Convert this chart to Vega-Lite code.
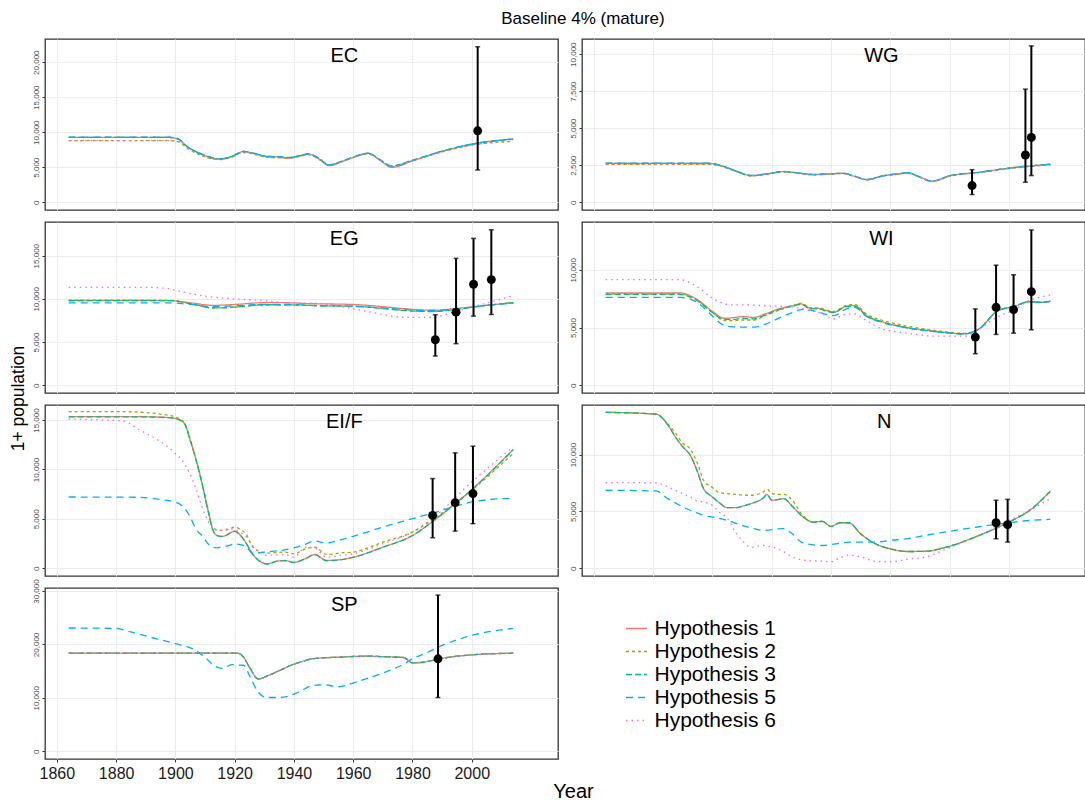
{
"$schema":"https://vega.github.io/schema/vega-lite/v6.json",
"background":"white",
"padding":{"left":8,"top":10,"right":0,"bottom":0},
"title":{"text":"Baseline 4% (mature)","fontSize":17,"fontWeight":"normal","font":"Liberation Sans","color":"black","anchor":"middle","dx":36,"offset":10},
"config":{
 "font":"Liberation Sans",
 "view":{"stroke":"#333333","strokeWidth":1.3},
 "axis":{"domain":false,"gridColor":"#ebebeb","tickColor":"#333333","tickSize":3,"tickWidth":1,"labelColor":"#4d4d4d","labelFlush":false,"labelOverlap":false},
 "axisY":{"labelAngle":-90,"labelAlign":"center","labelBaseline":"bottom","labelFontSize":8,"labelPadding":2},
 "legend":{"orient":"none","legendX":580,"legendY":578,"symbolType":"stroke","symbolSize":441,"symbolStrokeWidth":1.5,"labelFontSize":21,"labelColor":"black","rowPadding":1,"labelOffset":6.5,"labelLimit":300}
},
"datasets":{
"lines":[
{"p":"EC","x":1864,"h1":9250,"h2":8800,"h3":9250,"h5":9300,"h6":8800},
{"p":"EC","x":1898,"h1":9250,"h2":8800,"h3":9250,"h5":9300,"h6":8800},
{"p":"EC","x":1901,"h1":9000,"h2":8650,"h3":9000,"h5":9050,"h6":8650},
{"p":"EC","x":1904,"h1":7900,"h2":7700,"h3":7950,"h5":7950,"h6":7700},
{"p":"EC","x":1908,"h1":7000,"h2":6800,"h3":7050,"h5":7000,"h6":6800},
{"p":"EC","x":1911,"h1":6500,"h2":6350,"h3":6550,"h5":6500,"h6":6350},
{"p":"EC","x":1915,"h1":6170,"h2":6100,"h3":6200,"h5":6200,"h6":6100},
{"p":"EC","x":1919,"h1":6500,"h2":6450,"h3":6550,"h5":6550,"h6":6450},
{"p":"EC","x":1923,"h1":7250,"h2":7100,"h3":7250,"h5":7250,"h6":7100},
{"p":"EC","x":1927,"h1":6900,"h2":6800,"h3":6950,"h5":6950,"h6":6800},
{"p":"EC","x":1931,"h1":6500,"h2":6400,"h3":6550,"h5":6550,"h6":6400},
{"p":"EC","x":1935,"h1":6450,"h2":6350,"h3":6500,"h5":6500,"h6":6350},
{"p":"EC","x":1938,"h1":6330,"h2":6250,"h3":6400,"h5":6350,"h6":6250},
{"p":"EC","x":1942,"h1":6600,"h2":6550,"h3":6650,"h5":6650,"h6":6550},
{"p":"EC","x":1945,"h1":6880,"h2":6800,"h3":6900,"h5":6900,"h6":6800},
{"p":"EC","x":1948,"h1":6300,"h2":6250,"h3":6400,"h5":6350,"h6":6250},
{"p":"EC","x":1952,"h1":5220,"h2":5300,"h3":5350,"h5":5250,"h6":5300},
{"p":"EC","x":1956,"h1":5750,"h2":5800,"h3":5850,"h5":5800,"h6":5800},
{"p":"EC","x":1960,"h1":6400,"h2":6400,"h3":6450,"h5":6450,"h6":6400},
{"p":"EC","x":1965,"h1":6970,"h2":6900,"h3":7000,"h5":7000,"h6":6900},
{"p":"EC","x":1969,"h1":6000,"h2":6050,"h3":6100,"h5":6050,"h6":6050},
{"p":"EC","x":1973,"h1":4980,"h2":5150,"h3":5200,"h5":5050,"h6":5150},
{"p":"EC","x":1980,"h1":5900,"h2":5950,"h3":6000,"h5":5950,"h6":5950},
{"p":"EC","x":1990,"h1":7250,"h2":7200,"h3":7300,"h5":7300,"h6":7200},
{"p":"EC","x":2000,"h1":8300,"h2":8150,"h3":8300,"h5":8300,"h6":8150},
{"p":"EC","x":2014,"h1":9020,"h2":8700,"h3":9000,"h5":9050,"h6":8700},
{"p":"WG","x":1864,"h1":2630,"h2":2560,"h3":2620,"h5":2640,"h6":2580},
{"p":"WG","x":1899,"h1":2630,"h2":2560,"h3":2620,"h5":2640,"h6":2580},
{"p":"WG","x":1903,"h1":2470,"h2":2420,"h3":2460,"h5":2480,"h6":2430},
{"p":"WG","x":1908,"h1":2100,"h2":2070,"h3":2100,"h5":2110,"h6":2080},
{"p":"WG","x":1913,"h1":1800,"h2":1780,"h3":1800,"h5":1810,"h6":1790},
{"p":"WG","x":1918,"h1":1900,"h2":1880,"h3":1900,"h5":1910,"h6":1890},
{"p":"WG","x":1924,"h1":2070,"h2":2040,"h3":2070,"h5":2080,"h6":2050},
{"p":"WG","x":1929,"h1":1970,"h2":1950,"h3":1970,"h5":1980,"h6":1960},
{"p":"WG","x":1934,"h1":1870,"h2":1850,"h3":1870,"h5":1880,"h6":1860},
{"p":"WG","x":1939,"h1":1910,"h2":1890,"h3":1910,"h5":1920,"h6":1900},
{"p":"WG","x":1944,"h1":1955,"h2":1930,"h3":1955,"h5":1960,"h6":1940},
{"p":"WG","x":1948,"h1":1750,"h2":1730,"h3":1750,"h5":1760,"h6":1740},
{"p":"WG","x":1952,"h1":1530,"h2":1510,"h3":1530,"h5":1540,"h6":1520},
{"p":"WG","x":1958,"h1":1800,"h2":1780,"h3":1800,"h5":1810,"h6":1790},
{"p":"WG","x":1962,"h1":1900,"h2":1880,"h3":1900,"h5":1910,"h6":1890},
{"p":"WG","x":1966,"h1":1980,"h2":1960,"h3":1980,"h5":1990,"h6":1970},
{"p":"WG","x":1970,"h1":1700,"h2":1680,"h3":1700,"h5":1710,"h6":1690},
{"p":"WG","x":1974,"h1":1415,"h2":1400,"h3":1415,"h5":1420,"h6":1405},
{"p":"WG","x":1980,"h1":1780,"h2":1760,"h3":1780,"h5":1790,"h6":1770},
{"p":"WG","x":1990,"h1":2020,"h2":2000,"h3":2020,"h5":2030,"h6":2010},
{"p":"WG","x":2000,"h1":2300,"h2":2270,"h3":2300,"h5":2310,"h6":2280},
{"p":"WG","x":2014,"h1":2560,"h2":2520,"h3":2560,"h5":2570,"h6":2530},
{"p":"EG","x":1864,"h1":9810,"h2":9850,"h3":9800,"h5":9540,"h6":11340},
{"p":"EG","x":1890,"h1":9810,"h2":9850,"h3":9800,"h5":9540,"h6":11340},
{"p":"EG","x":1898,"h1":9800,"h2":9830,"h3":9800,"h5":9540,"h6":11150},
{"p":"EG","x":1905,"h1":9550,"h2":9450,"h3":9450,"h5":9350,"h6":10600},
{"p":"EG","x":1913,"h1":9250,"h2":8950,"h3":8950,"h5":9100,"h6":10200},
{"p":"EG","x":1920,"h1":9350,"h2":9050,"h3":9050,"h5":9200,"h6":10000},
{"p":"EG","x":1930,"h1":9560,"h2":9300,"h3":9320,"h5":9350,"h6":9800},
{"p":"EG","x":1938,"h1":9550,"h2":9300,"h3":9300,"h5":9350,"h6":9540},
{"p":"EG","x":1945,"h1":9450,"h2":9250,"h3":9250,"h5":9250,"h6":9500},
{"p":"EG","x":1950,"h1":9420,"h2":9200,"h3":9200,"h5":9200,"h6":9420},
{"p":"EG","x":1960,"h1":9350,"h2":9150,"h3":9150,"h5":9150,"h6":8850},
{"p":"EG","x":1970,"h1":9100,"h2":8900,"h3":8880,"h5":8950,"h6":8200},
{"p":"EG","x":1976,"h1":8900,"h2":8700,"h3":8680,"h5":8800,"h6":7880},
{"p":"EG","x":1983,"h1":8720,"h2":8550,"h3":8550,"h5":8650,"h6":7850},
{"p":"EG","x":1987,"h1":8680,"h2":8550,"h3":8530,"h5":8650,"h6":7880},
{"p":"EG","x":1995,"h1":8900,"h2":8800,"h3":8800,"h5":8850,"h6":8600},
{"p":"EG","x":2005,"h1":9250,"h2":9250,"h3":9250,"h5":9250,"h6":9500},
{"p":"EG","x":2014,"h1":9550,"h2":9600,"h3":9550,"h5":9500,"h6":10380},
{"p":"WI","x":1864,"h1":7990,"h2":7900,"h3":7870,"h5":7610,"h6":9140},
{"p":"WI","x":1889,"h1":7990,"h2":7900,"h3":7870,"h5":7610,"h6":9140},
{"p":"WI","x":1895,"h1":7400,"h2":7350,"h3":7300,"h5":7150,"h6":8500},
{"p":"WI","x":1900,"h1":6400,"h2":6300,"h3":6300,"h5":6000,"h6":7550},
{"p":"WI","x":1904,"h1":5800,"h2":5600,"h3":5700,"h5":5170,"h6":7050},
{"p":"WI","x":1907,"h1":5850,"h2":5600,"h3":5700,"h5":5050,"h6":6960},
{"p":"WI","x":1910,"h1":5950,"h2":5650,"h3":5800,"h5":5030,"h6":6960},
{"p":"WI","x":1914,"h1":5880,"h2":5650,"h3":5750,"h5":5030,"h6":6930},
{"p":"WI","x":1918,"h1":6200,"h2":6050,"h3":6100,"h5":5300,"h6":6880},
{"p":"WI","x":1923,"h1":6660,"h2":6550,"h3":6600,"h5":5880,"h6":6830},
{"p":"WI","x":1927,"h1":6900,"h2":6850,"h3":6850,"h5":6300,"h6":6750},
{"p":"WI","x":1930,"h1":7040,"h2":7100,"h3":7000,"h5":6550,"h6":6660},
{"p":"WI","x":1933,"h1":6660,"h2":6700,"h3":6620,"h5":6500,"h6":6450},
{"p":"WI","x":1936,"h1":6650,"h2":6700,"h3":6600,"h5":6320,"h6":6320},
{"p":"WI","x":1938,"h1":6500,"h2":6550,"h3":6450,"h5":6150,"h6":6050},
{"p":"WI","x":1941,"h1":6320,"h2":6400,"h3":6300,"h5":6030,"h6":5750},
{"p":"WI","x":1945,"h1":6830,"h2":6900,"h3":6800,"h5":6600,"h6":6150},
{"p":"WI","x":1948,"h1":6900,"h2":7000,"h3":6850,"h5":6750,"h6":6170},
{"p":"WI","x":1952,"h1":6030,"h2":6150,"h3":6000,"h5":5950,"h6":5600},
{"p":"WI","x":1957,"h1":5520,"h2":5650,"h3":5500,"h5":5450,"h6":4890},
{"p":"WI","x":1965,"h1":5030,"h2":5150,"h3":5000,"h5":5000,"h6":4540},
{"p":"WI","x":1975,"h1":4680,"h2":4750,"h3":4650,"h5":4650,"h6":4250},
{"p":"WI","x":1985,"h1":4450,"h2":4500,"h3":4450,"h5":4450,"h6":4250},
{"p":"WI","x":1990,"h1":4880,"h2":4880,"h3":4880,"h5":4880,"h6":4880},
{"p":"WI","x":1996,"h1":6400,"h2":6400,"h3":6400,"h5":6400,"h6":5900},
{"p":"WI","x":2002,"h1":6850,"h2":6850,"h3":6850,"h5":6850,"h6":6550},
{"p":"WI","x":2007,"h1":7240,"h2":7240,"h3":7240,"h5":7240,"h6":7350},
{"p":"WI","x":2011,"h1":7180,"h2":7200,"h3":7180,"h5":7180,"h6":7650},
{"p":"WI","x":2014,"h1":7270,"h2":7300,"h3":7270,"h5":7270,"h6":7840},
{"p":"EI/F","x":1864,"h1":15340,"h2":15850,"h3":15320,"h5":7210,"h6":15100},
{"p":"EI/F","x":1882,"h1":15340,"h2":15850,"h3":15320,"h5":7200,"h6":14930},
{"p":"EI/F","x":1888,"h1":15340,"h2":15800,"h3":15320,"h5":7180,"h6":13990},
{"p":"EI/F","x":1895,"h1":15300,"h2":15600,"h3":15280,"h5":6950,"h6":12800},
{"p":"EI/F","x":1900,"h1":15170,"h2":15300,"h3":15150,"h5":6700,"h6":11620},
{"p":"EI/F","x":1903,"h1":14670,"h2":14750,"h3":14650,"h5":6100,"h6":10600},
{"p":"EI/F","x":1905,"h1":12970,"h2":13100,"h3":12950,"h5":5190,"h6":9500},
{"p":"EI/F","x":1907,"h1":10940,"h2":11000,"h3":10920,"h5":3900,"h6":8000},
{"p":"EI/F","x":1909,"h1":8570,"h2":8700,"h3":8550,"h5":3320,"h6":6200},
{"p":"EI/F","x":1911,"h1":5860,"h2":6000,"h3":5850,"h5":2480,"h6":4800},
{"p":"EI/F","x":1912.5,"h1":4000,"h2":4200,"h3":3990,"h5":2130,"h6":4100},
{"p":"EI/F","x":1914,"h1":3320,"h2":3900,"h3":3310,"h5":2070,"h6":3830},
{"p":"EI/F","x":1916,"h1":3220,"h2":3830,"h3":3210,"h5":2200,"h6":3850},
{"p":"EI/F","x":1918,"h1":3490,"h2":3950,"h3":3480,"h5":2300,"h6":4000},
{"p":"EI/F","x":1920,"h1":3750,"h2":4170,"h3":3740,"h5":2450,"h6":3900},
{"p":"EI/F","x":1922,"h1":3320,"h2":3900,"h3":3310,"h5":2400,"h6":3600},
{"p":"EI/F","x":1924,"h1":2480,"h2":3400,"h3":2470,"h5":2130,"h6":3150},
{"p":"EI/F","x":1926,"h1":1460,"h2":2200,"h3":1450,"h5":1520,"h6":2300},
{"p":"EI/F","x":1929,"h1":610,"h2":1630,"h3":600,"h5":1600,"h6":1500},
{"p":"EI/F","x":1931,"h1":440,"h2":1520,"h3":430,"h5":1650,"h6":1290},
{"p":"EI/F","x":1934,"h1":700,"h2":1580,"h3":690,"h5":1750,"h6":1350},
{"p":"EI/F","x":1937,"h1":780,"h2":1630,"h3":770,"h5":1860,"h6":1390},
{"p":"EI/F","x":1940,"h1":600,"h2":1460,"h3":590,"h5":2050,"h6":1120},
{"p":"EI/F","x":1944,"h1":1000,"h2":1970,"h3":990,"h5":2450,"h6":2130},
{"p":"EI/F","x":1947,"h1":1390,"h2":2130,"h3":1380,"h5":2750,"h6":2060},
{"p":"EI/F","x":1951,"h1":780,"h2":1390,"h3":770,"h5":2550,"h6":1120},
{"p":"EI/F","x":1956,"h1":880,"h2":1550,"h3":870,"h5":2900,"h6":1300},
{"p":"EI/F","x":1960,"h1":1120,"h2":1630,"h3":1110,"h5":3220,"h6":1460},
{"p":"EI/F","x":1970,"h1":2130,"h2":2640,"h3":2120,"h5":4170,"h6":2480},
{"p":"EI/F","x":1980,"h1":3320,"h2":3660,"h3":3310,"h5":5010,"h6":3660},
{"p":"EI/F","x":1988,"h1":5010,"h2":5180,"h3":5000,"h5":5690,"h6":5350},
{"p":"EI/F","x":2000,"h1":7960,"h2":7900,"h3":7950,"h5":6710,"h6":8740},
{"p":"EI/F","x":2014,"h1":12030,"h2":11620,"h3":12000,"h5":7100,"h6":12290},
{"p":"N","x":1864,"h1":13720,"h2":13720,"h3":13720,"h5":6860,"h6":7540},
{"p":"N","x":1881,"h1":13560,"h2":13560,"h3":13560,"h5":6800,"h6":7510},
{"p":"N","x":1885,"h1":12600,"h2":12700,"h3":12600,"h5":6120,"h6":7160},
{"p":"N","x":1887.5,"h1":11560,"h2":11900,"h3":11560,"h5":5750,"h6":6850},
{"p":"N","x":1890,"h1":10680,"h2":11000,"h3":10680,"h5":5390,"h6":6560},
{"p":"N","x":1892.5,"h1":9950,"h2":10500,"h3":9950,"h5":5100,"h6":6250},
{"p":"N","x":1895,"h1":8470,"h2":9200,"h3":8470,"h5":4850,"h6":5900},
{"p":"N","x":1897,"h1":7010,"h2":7740,"h3":7010,"h5":4650,"h6":5830},
{"p":"N","x":1900,"h1":6270,"h2":7100,"h3":6270,"h5":4500,"h6":5540},
{"p":"N","x":1902,"h1":5830,"h2":6700,"h3":5830,"h5":4400,"h6":5000},
{"p":"N","x":1905,"h1":5330,"h2":6560,"h3":5330,"h5":4210,"h6":4400},
{"p":"N","x":1908,"h1":5330,"h2":6500,"h3":5330,"h5":3950,"h6":3100},
{"p":"N","x":1910,"h1":5450,"h2":6450,"h3":5450,"h5":3770,"h6":2440},
{"p":"N","x":1913,"h1":5680,"h2":6420,"h3":5680,"h5":3550,"h6":1860},
{"p":"N","x":1917,"h1":6150,"h2":6700,"h3":6150,"h5":3330,"h6":2000},
{"p":"N","x":1918.5,"h1":6480,"h2":6940,"h3":6480,"h5":3350,"h6":1950},
{"p":"N","x":1920,"h1":5980,"h2":6560,"h3":5980,"h5":3400,"h6":1860},
{"p":"N","x":1922,"h1":6040,"h2":6500,"h3":6040,"h5":3450,"h6":1700},
{"p":"N","x":1924,"h1":6120,"h2":6500,"h3":6120,"h5":3480,"h6":1450},
{"p":"N","x":1927,"h1":5440,"h2":5980,"h3":5440,"h5":3030,"h6":1000},
{"p":"N","x":1930,"h1":4650,"h2":4800,"h3":4650,"h5":2300,"h6":740},
{"p":"N","x":1934,"h1":4060,"h2":4060,"h3":4060,"h5":2050,"h6":640},
{"p":"N","x":1937,"h1":4120,"h2":4120,"h3":4120,"h5":2000,"h6":620},
{"p":"N","x":1940,"h1":3680,"h2":3680,"h3":3680,"h5":2090,"h6":560},
{"p":"N","x":1943,"h1":4000,"h2":4000,"h3":4000,"h5":2200,"h6":900},
{"p":"N","x":1946,"h1":4000,"h2":4000,"h3":4000,"h5":2300,"h6":1150},
{"p":"N","x":1950,"h1":3030,"h2":3030,"h3":3030,"h5":2300,"h6":1000},
{"p":"N","x":1955,"h1":2150,"h2":2150,"h3":2150,"h5":2300,"h6":620},
{"p":"N","x":1960,"h1":1710,"h2":1710,"h3":1710,"h5":2450,"h6":560},
{"p":"N","x":1966,"h1":1470,"h2":1470,"h3":1470,"h5":2600,"h6":800},
{"p":"N","x":1972,"h1":1500,"h2":1500,"h3":1500,"h5":2900,"h6":1000},
{"p":"N","x":1979,"h1":1860,"h2":1860,"h3":1860,"h5":3210,"h6":1700},
{"p":"N","x":1990,"h1":2890,"h2":2890,"h3":2890,"h5":3650,"h6":2890},
{"p":"N","x":2000,"h1":4060,"h2":4060,"h3":4060,"h5":4000,"h6":4210},
{"p":"N","x":2007,"h1":5090,"h2":5090,"h3":5090,"h5":4200,"h6":5090},
{"p":"N","x":2014,"h1":6770,"h2":6770,"h3":6770,"h5":4300,"h6":6120},
{"p":"SP","x":1864,"h1":18360,"h2":18360,"h3":18360,"h5":23080,"h6":18360},
{"p":"SP","x":1880,"h1":18360,"h2":18360,"h3":18360,"h5":23000,"h6":18360},
{"p":"SP","x":1885,"h1":18360,"h2":18360,"h3":18360,"h5":22330,"h6":18360},
{"p":"SP","x":1890,"h1":18360,"h2":18360,"h3":18360,"h5":21580,"h6":18360},
{"p":"SP","x":1900,"h1":18360,"h2":18360,"h3":18360,"h5":20130,"h6":18360},
{"p":"SP","x":1906,"h1":18360,"h2":18360,"h3":18360,"h5":19140,"h6":18360},
{"p":"SP","x":1910,"h1":18360,"h2":18360,"h3":18360,"h5":17600,"h6":18360},
{"p":"SP","x":1913,"h1":18360,"h2":18360,"h3":18360,"h5":16040,"h6":18360},
{"p":"SP","x":1916,"h1":18360,"h2":18360,"h3":18360,"h5":15530,"h6":18360},
{"p":"SP","x":1919,"h1":18360,"h2":18360,"h3":18360,"h5":16200,"h6":18360},
{"p":"SP","x":1921,"h1":18360,"h2":18360,"h3":18360,"h5":16150,"h6":18360},
{"p":"SP","x":1923,"h1":17600,"h2":17600,"h3":17600,"h5":16100,"h6":17600},
{"p":"SP","x":1925,"h1":15720,"h2":15720,"h3":15720,"h5":14150,"h6":15720},
{"p":"SP","x":1928,"h1":13520,"h2":13520,"h3":13520,"h5":11000,"h6":13520},
{"p":"SP","x":1931,"h1":14100,"h2":14100,"h3":14100,"h5":10060,"h6":14100},
{"p":"SP","x":1935,"h1":15090,"h2":15090,"h3":15090,"h5":10060,"h6":15090},
{"p":"SP","x":1940,"h1":16300,"h2":16300,"h3":16300,"h5":10690,"h6":16300},
{"p":"SP","x":1942,"h1":16660,"h2":16660,"h3":16660,"h5":11200,"h6":16660},
{"p":"SP","x":1946,"h1":17300,"h2":17300,"h3":17300,"h5":12260,"h6":17300},
{"p":"SP","x":1948,"h1":17420,"h2":17420,"h3":17420,"h5":12400,"h6":17420},
{"p":"SP","x":1950,"h1":17500,"h2":17500,"h3":17500,"h5":12450,"h6":17500},
{"p":"SP","x":1955,"h1":17600,"h2":17600,"h3":17600,"h5":12070,"h6":17600},
{"p":"SP","x":1960,"h1":17740,"h2":17740,"h3":17740,"h5":12770,"h6":17740},
{"p":"SP","x":1965,"h1":17800,"h2":17800,"h3":17800,"h5":13700,"h6":17800},
{"p":"SP","x":1970,"h1":17700,"h2":17700,"h3":17700,"h5":14650,"h6":17700},
{"p":"SP","x":1977,"h1":17550,"h2":17550,"h3":17550,"h5":16300,"h6":17550},
{"p":"SP","x":1980,"h1":16540,"h2":16540,"h3":16540,"h5":17300,"h6":16540},
{"p":"SP","x":1985,"h1":16800,"h2":16800,"h3":16800,"h5":18500,"h6":16800},
{"p":"SP","x":1990,"h1":17400,"h2":17400,"h3":17400,"h5":19810,"h6":17400},
{"p":"SP","x":2000,"h1":18050,"h2":18050,"h3":18050,"h5":21700,"h6":18050},
{"p":"SP","x":2014,"h1":18360,"h2":18360,"h3":18360,"h5":23000,"h6":18360}
],
"obs":[
{"p":"EC","x":2002,"est":10200,"lo":4600,"hi":22200},
{"p":"WG","x":1987.6,"est":1125,"lo":520,"hi":2200},
{"p":"WG","x":2005.6,"est":3190,"lo":1350,"hi":7640},
{"p":"WG","x":2007.6,"est":4380,"lo":1800,"hi":10560},
{"p":"EG","x":1987.7,"est":5270,"lo":3380,"hi":8160},
{"p":"EG","x":1994.7,"est":8460,"lo":4810,"hi":14690},
{"p":"EG","x":2000.6,"est":11690,"lo":8000,"hi":17000},
{"p":"EG","x":2006.6,"est":12230,"lo":8190,"hi":18000},
{"p":"WI","x":1988.7,"est":4170,"lo":2730,"hi":6610},
{"p":"WI","x":1995.7,"est":6750,"lo":4400,"hi":10400},
{"p":"WI","x":2001.6,"est":6550,"lo":4510,"hi":9570},
{"p":"WI","x":2007.6,"est":8100,"lo":4800,"hi":13450},
{"p":"EI/F","x":1986.8,"est":5350,"lo":3090,"hi":9080},
{"p":"EI/F","x":1994.4,"est":6640,"lo":3760,"hi":11680},
{"p":"EI/F","x":2000.4,"est":7560,"lo":4510,"hi":12360},
{"p":"N","x":1995.7,"est":4000,"lo":2590,"hi":5980},
{"p":"N","x":1999.6,"est":3830,"lo":2300,"hi":6060},
{"p":"SP","x":1988.6,"est":17300,"lo":10060,"hi":29245}
]
},
"columns":2,
"bounds":"flush",
"spacing":{"row":12,"column":24},
"concat":[
{"width":513,"height":171,"layer":[
 {"data":{"name":"lines"},"transform":[{"filter":"datum.p==='EC'"},{"fold":["h1","h2","h3","h5","h6"],"as":["hyp","val"]}],
  "mark":{"type":"line","strokeWidth":1.3,"interpolate":"monotone"},
  "encoding":{
   "x":{"field":"x","type":"quantitative","scale":{"domain":[1856,2029.1],"nice":false,"zero":false},"axis":{"values":[1860,1870,1880,1890,1900,1910,1920,1930,1940,1950,1960,1970,1980,1990,2000,2010],"labels":false,"ticks":false,"title":null,"gridWidth":{"condition":{"test":"datum.value % 20 === 0","value":1},"value":0.6}}},
   "y":{"field":"val","type":"quantitative","scale":{"domain":[-1110,23310],"nice":false,"zero":false},"axis":{"values":[0,2500,5000,7500,10000,12500,15000,17500,20000,22500],"format":",d","title":null,"labelExpr":"datum.value % 5000 === 0 ? datum.label : ''","tickOpacity":{"condition":{"test":"datum.value % 5000 === 0","value":1},"value":0},"gridWidth":{"condition":{"test":"datum.value % 5000 === 0","value":1},"value":0.6}}},
   "color":{"field":"hyp","type":"nominal","scale":{"domain":["h1","h2","h3","h5","h6"],"range":["#F8766D","#A3A500","#00BF7D","#00B0F6","#E76BF3"]},"legend":{"title":null,"labelExpr":"'Hypothesis ' + slice(datum.label, 1)"}},
   "strokeDash":{"field":"hyp","type":"nominal","scale":{"domain":["h1","h2","h3","h5","h6"],"range":[[1,0],[3,3],[6,3],[7,5],[1.5,4]]},"legend":{"title":null,"labelExpr":"'Hypothesis ' + slice(datum.label, 1)"}}
  }},
 {"data":{"name":"obs"},"transform":[{"filter":"datum.p==='EC'"}],"mark":{"type":"errorbar","thickness":2,"color":"black","ticks":{"size":5,"thickness":1.5,"color":"black"}},"encoding":{"x":{"field":"x","type":"quantitative","title":null},"y":{"field":"lo","type":"quantitative","title":null},"y2":{"field":"hi"}}},
 {"data":{"name":"obs"},"transform":[{"filter":"datum.p==='EC'"}],"mark":{"type":"point","filled":true,"color":"black","size":80,"opacity":1},"encoding":{"x":{"field":"x","type":"quantitative","title":null},"y":{"field":"est","type":"quantitative","title":null}}},
 {"data":{"values":[{"lab":"EC"}]},"mark":{"type":"text","fontSize":20,"color":"black","align":"center","baseline":"middle"},"encoding":{"x":{"datum":1957,"type":"quantitative","title":null},"y":{"datum":20890,"type":"quantitative","title":null},"text":{"field":"lab"}}}
]},
{"width":503,"height":171,"layer":[
 {"data":{"name":"lines"},"transform":[{"filter":"datum.p==='WG'"},{"fold":["h1","h2","h3","h5","h6"],"as":["hyp","val"]}],
  "mark":{"type":"line","strokeWidth":1.3,"interpolate":"monotone"},
  "encoding":{
   "x":{"field":"x","type":"quantitative","scale":{"domain":[1856,2025.7],"nice":false,"zero":false},"axis":{"values":[1860,1870,1880,1890,1900,1910,1920,1930,1940,1950,1960,1970,1980,1990,2000,2010],"labels":false,"ticks":false,"title":null,"gridWidth":{"condition":{"test":"datum.value % 20 === 0","value":1},"value":0.6}}},
   "y":{"field":"val","type":"quantitative","scale":{"domain":[-525,11025],"nice":false,"zero":false},"axis":{"values":[0,1250,2500,3750,5000,6250,7500,8750,10000],"format":",d","title":null,"labelExpr":"datum.value % 2500 === 0 ? datum.label : ''","tickOpacity":{"condition":{"test":"datum.value % 2500 === 0","value":1},"value":0},"gridWidth":{"condition":{"test":"datum.value % 2500 === 0","value":1},"value":0.6}}},
   "color":{"field":"hyp","type":"nominal","scale":{"domain":["h1","h2","h3","h5","h6"],"range":["#F8766D","#A3A500","#00BF7D","#00B0F6","#E76BF3"]},"legend":{"title":null,"labelExpr":"'Hypothesis ' + slice(datum.label, 1)"}},
   "strokeDash":{"field":"hyp","type":"nominal","scale":{"domain":["h1","h2","h3","h5","h6"],"range":[[1,0],[3,3],[6,3],[7,5],[1.5,4]]},"legend":{"title":null,"labelExpr":"'Hypothesis ' + slice(datum.label, 1)"}}
  }},
 {"data":{"name":"obs"},"transform":[{"filter":"datum.p==='WG'"}],"mark":{"type":"errorbar","thickness":2,"color":"black","ticks":{"size":5,"thickness":1.5,"color":"black"}},"encoding":{"x":{"field":"x","type":"quantitative","title":null},"y":{"field":"lo","type":"quantitative","title":null},"y2":{"field":"hi"}}},
 {"data":{"name":"obs"},"transform":[{"filter":"datum.p==='WG'"}],"mark":{"type":"point","filled":true,"color":"black","size":80,"opacity":1},"encoding":{"x":{"field":"x","type":"quantitative","title":null},"y":{"field":"est","type":"quantitative","title":null}}},
 {"data":{"values":[{"lab":"WG"}]},"mark":{"type":"text","fontSize":20,"color":"black","align":"center","baseline":"middle"},"encoding":{"x":{"datum":1957,"type":"quantitative","title":null},"y":{"datum":9880,"type":"quantitative","title":null},"text":{"field":"lab"}}}
]},
{"width":513,"height":171,"layer":[
 {"data":{"name":"lines"},"transform":[{"filter":"datum.p==='EG'"},{"fold":["h1","h2","h3","h5","h6"],"as":["hyp","val"]}],
  "mark":{"type":"line","strokeWidth":1.3,"interpolate":"monotone"},
  "encoding":{
   "x":{"field":"x","type":"quantitative","scale":{"domain":[1856,2029.1],"nice":false,"zero":false},"axis":{"values":[1860,1870,1880,1890,1900,1910,1920,1930,1940,1950,1960,1970,1980,1990,2000,2010],"labels":false,"ticks":false,"title":null,"gridWidth":{"condition":{"test":"datum.value % 20 === 0","value":1},"value":0.6}}},
   "y":{"field":"val","type":"quantitative","scale":{"domain":[-900,18900],"nice":false,"zero":false},"axis":{"values":[0,2500,5000,7500,10000,12500,15000,17500],"format":",d","title":null,"labelExpr":"datum.value % 5000 === 0 ? datum.label : ''","tickOpacity":{"condition":{"test":"datum.value % 5000 === 0","value":1},"value":0},"gridWidth":{"condition":{"test":"datum.value % 5000 === 0","value":1},"value":0.6}}},
   "color":{"field":"hyp","type":"nominal","scale":{"domain":["h1","h2","h3","h5","h6"],"range":["#F8766D","#A3A500","#00BF7D","#00B0F6","#E76BF3"]},"legend":{"title":null,"labelExpr":"'Hypothesis ' + slice(datum.label, 1)"}},
   "strokeDash":{"field":"hyp","type":"nominal","scale":{"domain":["h1","h2","h3","h5","h6"],"range":[[1,0],[3,3],[6,3],[7,5],[1.5,4]]},"legend":{"title":null,"labelExpr":"'Hypothesis ' + slice(datum.label, 1)"}}
  }},
 {"data":{"name":"obs"},"transform":[{"filter":"datum.p==='EG'"}],"mark":{"type":"errorbar","thickness":2,"color":"black","ticks":{"size":5,"thickness":1.5,"color":"black"}},"encoding":{"x":{"field":"x","type":"quantitative","title":null},"y":{"field":"lo","type":"quantitative","title":null},"y2":{"field":"hi"}}},
 {"data":{"name":"obs"},"transform":[{"filter":"datum.p==='EG'"}],"mark":{"type":"point","filled":true,"color":"black","size":80,"opacity":1},"encoding":{"x":{"field":"x","type":"quantitative","title":null},"y":{"field":"est","type":"quantitative","title":null}}},
 {"data":{"values":[{"lab":"EG"}]},"mark":{"type":"text","fontSize":20,"color":"black","align":"center","baseline":"middle"},"encoding":{"x":{"datum":1957,"type":"quantitative","title":null},"y":{"datum":16940,"type":"quantitative","title":null},"text":{"field":"lab"}}}
]},
{"width":503,"height":171,"layer":[
 {"data":{"name":"lines"},"transform":[{"filter":"datum.p==='WI'"},{"fold":["h1","h2","h3","h5","h6"],"as":["hyp","val"]}],
  "mark":{"type":"line","strokeWidth":1.3,"interpolate":"monotone"},
  "encoding":{
   "x":{"field":"x","type":"quantitative","scale":{"domain":[1856,2025.7],"nice":false,"zero":false},"axis":{"values":[1860,1870,1880,1890,1900,1910,1920,1930,1940,1950,1960,1970,1980,1990,2000,2010],"labels":false,"ticks":false,"title":null,"gridWidth":{"condition":{"test":"datum.value % 20 === 0","value":1},"value":0.6}}},
   "y":{"field":"val","type":"quantitative","scale":{"domain":[-673,14138],"nice":false,"zero":false},"axis":{"values":[0,2500,5000,7500,10000,12500],"format":",d","title":null,"labelExpr":"datum.value % 5000 === 0 ? datum.label : ''","tickOpacity":{"condition":{"test":"datum.value % 5000 === 0","value":1},"value":0},"gridWidth":{"condition":{"test":"datum.value % 5000 === 0","value":1},"value":0.6}}},
   "color":{"field":"hyp","type":"nominal","scale":{"domain":["h1","h2","h3","h5","h6"],"range":["#F8766D","#A3A500","#00BF7D","#00B0F6","#E76BF3"]},"legend":{"title":null,"labelExpr":"'Hypothesis ' + slice(datum.label, 1)"}},
   "strokeDash":{"field":"hyp","type":"nominal","scale":{"domain":["h1","h2","h3","h5","h6"],"range":[[1,0],[3,3],[6,3],[7,5],[1.5,4]]},"legend":{"title":null,"labelExpr":"'Hypothesis ' + slice(datum.label, 1)"}}
  }},
 {"data":{"name":"obs"},"transform":[{"filter":"datum.p==='WI'"}],"mark":{"type":"errorbar","thickness":2,"color":"black","ticks":{"size":5,"thickness":1.5,"color":"black"}},"encoding":{"x":{"field":"x","type":"quantitative","title":null},"y":{"field":"lo","type":"quantitative","title":null},"y2":{"field":"hi"}}},
 {"data":{"name":"obs"},"transform":[{"filter":"datum.p==='WI'"}],"mark":{"type":"point","filled":true,"color":"black","size":80,"opacity":1},"encoding":{"x":{"field":"x","type":"quantitative","title":null},"y":{"field":"est","type":"quantitative","title":null}}},
 {"data":{"values":[{"lab":"WI"}]},"mark":{"type":"text","fontSize":20,"color":"black","align":"center","baseline":"middle"},"encoding":{"x":{"datum":1957,"type":"quantitative","title":null},"y":{"datum":12670,"type":"quantitative","title":null},"text":{"field":"lab"}}}
]},
{"width":513,"height":171,"layer":[
 {"data":{"name":"lines"},"transform":[{"filter":"datum.p==='EI/F'"},{"fold":["h1","h2","h3","h5","h6"],"as":["hyp","val"]}],
  "mark":{"type":"line","strokeWidth":1.3,"interpolate":"monotone"},
  "encoding":{
   "x":{"field":"x","type":"quantitative","scale":{"domain":[1856,2029.1],"nice":false,"zero":false},"axis":{"values":[1860,1870,1880,1890,1900,1910,1920,1930,1940,1950,1960,1970,1980,1990,2000,2010],"labels":false,"ticks":false,"title":null,"gridWidth":{"condition":{"test":"datum.value % 20 === 0","value":1},"value":0.6}}},
   "y":{"field":"val","type":"quantitative","scale":{"domain":[-787,16527],"nice":false,"zero":false},"axis":{"values":[0,2500,5000,7500,10000,12500,15000],"format":",d","title":"1+ population","titleFontSize":17.5,"titleFontWeight":"normal","titleColor":"black","titlePadding":5,"titleY":-7,"labelExpr":"datum.value % 5000 === 0 ? datum.label : ''","tickOpacity":{"condition":{"test":"datum.value % 5000 === 0","value":1},"value":0},"gridWidth":{"condition":{"test":"datum.value % 5000 === 0","value":1},"value":0.6}}},
   "color":{"field":"hyp","type":"nominal","scale":{"domain":["h1","h2","h3","h5","h6"],"range":["#F8766D","#A3A500","#00BF7D","#00B0F6","#E76BF3"]},"legend":{"title":null,"labelExpr":"'Hypothesis ' + slice(datum.label, 1)"}},
   "strokeDash":{"field":"hyp","type":"nominal","scale":{"domain":["h1","h2","h3","h5","h6"],"range":[[1,0],[3,3],[6,3],[7,5],[1.5,4]]},"legend":{"title":null,"labelExpr":"'Hypothesis ' + slice(datum.label, 1)"}}
  }},
 {"data":{"name":"obs"},"transform":[{"filter":"datum.p==='EI/F'"}],"mark":{"type":"errorbar","thickness":2,"color":"black","ticks":{"size":5,"thickness":1.5,"color":"black"}},"encoding":{"x":{"field":"x","type":"quantitative","title":null},"y":{"field":"lo","type":"quantitative","title":"1+ population"},"y2":{"field":"hi"}}},
 {"data":{"name":"obs"},"transform":[{"filter":"datum.p==='EI/F'"}],"mark":{"type":"point","filled":true,"color":"black","size":80,"opacity":1},"encoding":{"x":{"field":"x","type":"quantitative","title":null},"y":{"field":"est","type":"quantitative","title":"1+ population"}}},
 {"data":{"values":[{"lab":"EI/F"}]},"mark":{"type":"text","fontSize":20,"color":"black","align":"center","baseline":"middle"},"encoding":{"x":{"datum":1957,"type":"quantitative","title":null},"y":{"datum":14800,"type":"quantitative","title":"1+ population"},"text":{"field":"lab"}}}
]},
{"width":503,"height":171,"layer":[
 {"data":{"name":"lines"},"transform":[{"filter":"datum.p==='N'"},{"fold":["h1","h2","h3","h5","h6"],"as":["hyp","val"]}],
  "mark":{"type":"line","strokeWidth":1.3,"interpolate":"monotone"},
  "encoding":{
   "x":{"field":"x","type":"quantitative","scale":{"domain":[1856,2025.7],"nice":false,"zero":false},"axis":{"values":[1860,1870,1880,1890,1900,1910,1920,1930,1940,1950,1960,1970,1980,1990,2000,2010],"labels":false,"ticks":false,"title":null,"gridWidth":{"condition":{"test":"datum.value % 20 === 0","value":1},"value":0.6}}},
   "y":{"field":"val","type":"quantitative","scale":{"domain":[-684,14364],"nice":false,"zero":false},"axis":{"values":[0,2500,5000,7500,10000,12500],"format":",d","title":null,"labelExpr":"datum.value % 5000 === 0 ? datum.label : ''","tickOpacity":{"condition":{"test":"datum.value % 5000 === 0","value":1},"value":0},"gridWidth":{"condition":{"test":"datum.value % 5000 === 0","value":1},"value":0.6}}},
   "color":{"field":"hyp","type":"nominal","scale":{"domain":["h1","h2","h3","h5","h6"],"range":["#F8766D","#A3A500","#00BF7D","#00B0F6","#E76BF3"]},"legend":{"title":null,"labelExpr":"'Hypothesis ' + slice(datum.label, 1)"}},
   "strokeDash":{"field":"hyp","type":"nominal","scale":{"domain":["h1","h2","h3","h5","h6"],"range":[[1,0],[3,3],[6,3],[7,5],[1.5,4]]},"legend":{"title":null,"labelExpr":"'Hypothesis ' + slice(datum.label, 1)"}}
  }},
 {"data":{"name":"obs"},"transform":[{"filter":"datum.p==='N'"}],"mark":{"type":"errorbar","thickness":2,"color":"black","ticks":{"size":5,"thickness":1.5,"color":"black"}},"encoding":{"x":{"field":"x","type":"quantitative","title":null},"y":{"field":"lo","type":"quantitative","title":null},"y2":{"field":"hi"}}},
 {"data":{"name":"obs"},"transform":[{"filter":"datum.p==='N'"}],"mark":{"type":"point","filled":true,"color":"black","size":80,"opacity":1},"encoding":{"x":{"field":"x","type":"quantitative","title":null},"y":{"field":"est","type":"quantitative","title":null}}},
 {"data":{"values":[{"lab":"N"}]},"mark":{"type":"text","fontSize":20,"color":"black","align":"center","baseline":"middle"},"encoding":{"x":{"datum":1958,"type":"quantitative","title":null},"y":{"datum":12860,"type":"quantitative","title":null},"text":{"field":"lab"}}}
]},
{"width":513,"height":171,"layer":[
 {"data":{"name":"lines"},"transform":[{"filter":"datum.p==='SP'"},{"fold":["h1","h2","h3","h5","h6"],"as":["hyp","val"]}],
  "mark":{"type":"line","strokeWidth":1.3,"interpolate":"monotone"},
  "encoding":{
   "x":{"field":"x","type":"quantitative","scale":{"domain":[1856,2029.1],"nice":false,"zero":false},"axis":{"values":[1860,1870,1880,1890,1900,1910,1920,1930,1940,1950,1960,1970,1980,1990,2000,2010],"format":"d","labelExpr":"datum.value % 20 === 0 ? datum.label : ''","tickOpacity":{"condition":{"test":"datum.value % 20 === 0","value":1},"value":0},"gridWidth":{"condition":{"test":"datum.value % 20 === 0","value":1},"value":0.6},"labelFontSize":16,"labelColor":"#1a1a1a","labelPadding":3,"title":"Year","titleFontSize":20,"titleFontWeight":"normal","titleColor":"black","titleX":528,"titlePadding":0}},
   "y":{"field":"val","type":"quantitative","scale":{"domain":[-1456,30566],"nice":false,"zero":false},"axis":{"values":[0,5000,10000,15000,20000,25000,30000],"format":",d","title":null,"labelExpr":"datum.value % 10000 === 0 ? datum.label : ''","tickOpacity":{"condition":{"test":"datum.value % 10000 === 0","value":1},"value":0},"gridWidth":{"condition":{"test":"datum.value % 10000 === 0","value":1},"value":0.6}}},
   "color":{"field":"hyp","type":"nominal","scale":{"domain":["h1","h2","h3","h5","h6"],"range":["#F8766D","#A3A500","#00BF7D","#00B0F6","#E76BF3"]},"legend":{"title":null,"labelExpr":"'Hypothesis ' + slice(datum.label, 1)"}},
   "strokeDash":{"field":"hyp","type":"nominal","scale":{"domain":["h1","h2","h3","h5","h6"],"range":[[1,0],[3,3],[6,3],[7,5],[1.5,4]]},"legend":{"title":null,"labelExpr":"'Hypothesis ' + slice(datum.label, 1)"}}
  }},
 {"data":{"name":"obs"},"transform":[{"filter":"datum.p==='SP'"}],"mark":{"type":"errorbar","thickness":2,"color":"black","ticks":{"size":5,"thickness":1.5,"color":"black"}},"encoding":{"x":{"field":"x","type":"quantitative","title":"Year"},"y":{"field":"lo","type":"quantitative","title":null},"y2":{"field":"hi"}}},
 {"data":{"name":"obs"},"transform":[{"filter":"datum.p==='SP'"}],"mark":{"type":"point","filled":true,"color":"black","size":80,"opacity":1},"encoding":{"x":{"field":"x","type":"quantitative","title":"Year"},"y":{"field":"est","type":"quantitative","title":null}}},
 {"data":{"values":[{"lab":"SP"}]},"mark":{"type":"text","fontSize":20,"color":"black","align":"center","baseline":"middle"},"encoding":{"x":{"datum":1957,"type":"quantitative","title":"Year"},"y":{"datum":27360,"type":"quantitative","title":null},"text":{"field":"lab"}}}
]}
]
}
